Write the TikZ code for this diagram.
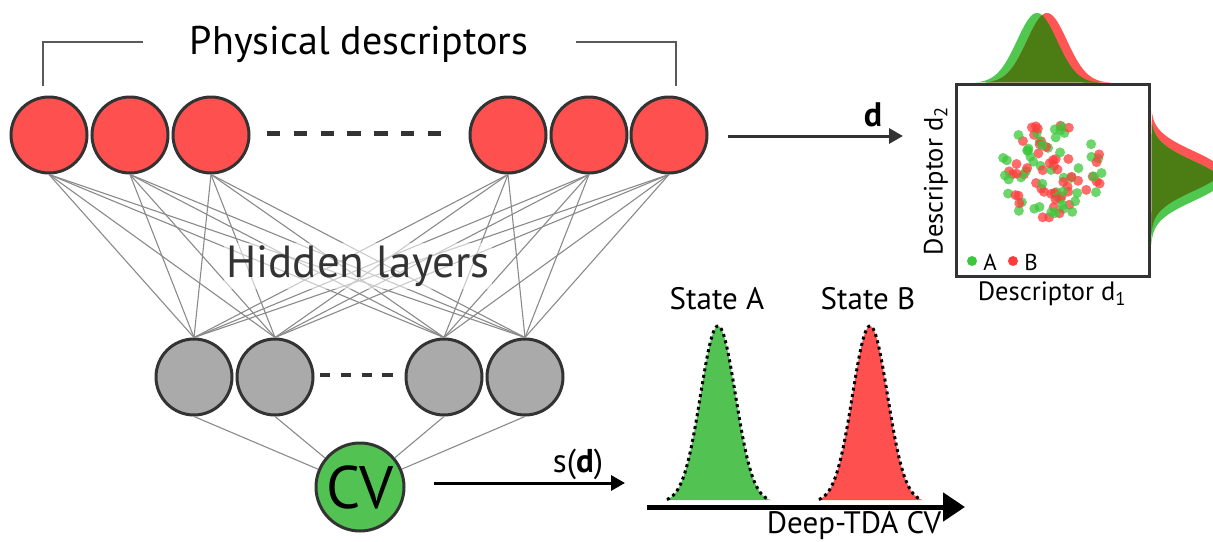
\documentclass[tikz,border=0pt]{standalone}
\usepackage{fontspec}
\setmainfont{PT Sans}
\usetikzlibrary{arrows.meta}
\definecolor{nred}{HTML}{FF5050}
\definecolor{ngreen}{HTML}{52C352}
\definecolor{ngray}{HTML}{AAAAAA}
\definecolor{edgec}{HTML}{333333}
\definecolor{wirec}{HTML}{8A8A8A}
\definecolor{olivec}{HTML}{4B7D14}
\definecolor{mgreen}{HTML}{50C850}
\definecolor{mred}{HTML}{FF5555}
\definecolor{dgreen}{HTML}{3CC83C}
\definecolor{dred}{HTML}{FF3C3C}
\begin{document}
\begin{tikzpicture}[x=1pt,y=-1pt,
  neuron/.style={circle, draw=edgec, line width=3pt, minimum size=76pt, inner sep=0pt},
  inp/.style={neuron, fill=nred},
  hid/.style={neuron, fill=ngray},
  wire/.style={draw=wirec, line width=1.1pt},
  bracketline/.style={draw=black!65, line width=1.3pt},
  peakline/.style={draw=black, line width=3pt, dash pattern=on 3pt off 3.5pt},
  dotA/.style={fill=dgreen, opacity=.75},
  dotB/.style={fill=dred, opacity=.75}
]
\useasboundingbox (0,0) rectangle (1213,541);

% input layer
\foreach \n/\x in {1/49,2/130,3/211,4/508,5/589,6/669}
  \node[inp] (r\n) at (\x,135) {};
% hidden layer
\foreach \n/\x in {1/194,2/275,3/444,4/525}
  \node[hid] (g\n) at (\x,377) {};
% output
\node[neuron, fill=ngreen, minimum size=88pt, font=\fontsize{60}{64}\selectfont] (cv) at (360,487) {CV};

% connections
\foreach \i in {1,...,6}
  \foreach \j in {1,...,4}
    \draw[wire] (r\i.south) -- (g\j.north);
\foreach \j in {1,...,4}
  \draw[wire] (g\j.south) -- (cv);

% dashes
\coordinate (da0) at (267,133); \coordinate (da1) at (441,133);
\draw[edgec, line width=5pt, dash pattern=on 13.4pt off 13.4pt] (da0) -- (da1);
\coordinate (db0) at (320,375); \coordinate (db1) at (393,375);
\draw[edgec, line width=4pt, dash pattern=on 10.4pt off 10.4pt] (db0) -- (db1);

% labels
\node[fill=white, fill opacity=.55, text opacity=1, text=edgec, inner sep=2pt,
      font=\fontsize{45}{48}\selectfont] (hl) at (358,266) {Hidden layers};
\node[font=\fontsize{40}{44}\selectfont] (pd) at (359,44) {Physical descriptors};

% brackets
\coordinate (bl0) at (43,86); \coordinate (bl1) at (43,42); \coordinate (bl2) at (143,42);
\coordinate (br0) at (576,42); \coordinate (br1) at (676,42); \coordinate (br2) at (676,86);
\draw[bracketline] (bl0) -- (bl1) -- (bl2);
\draw[bracketline] (br0) -- (br1) -- (br2);

% d arrow
\coordinate (ad0) at (728,136); \coordinate (ad1) at (903,136);
\draw[edgec, line width=3pt, -{Triangle[length=14pt,width=15pt]}] (ad0) -- (ad1);
\node[font=\fontsize{34}{38}\selectfont\bfseries] (dl) at (873,115) {d};

% s(d) arrow
\coordinate (as0) at (434,483); \coordinate (as1) at (625,483);
\draw[black, line width=3pt, -{Triangle[length=14pt,width=15pt]}] (as0) -- (as1);
\node[font=\fontsize{33}{36}\selectfont] (sl) at (578,464) {s(\textbf{d})};

% Deep-TDA CV distributions
\fill[ngreen] plot[domain=665:771,samples=80] (\x,{502-176*exp(-0.5*((\x-718)/17.5)^2)}) -- cycle;
\draw[peakline] plot[domain=667:769,samples=80] (\x,{502-176*exp(-0.5*((\x-718)/17.5)^2)});
\fill[nred] plot[domain=817:923,samples=80] (\x,{502-176*exp(-0.5*((\x-870)/17.5)^2)}) -- cycle;
\draw[peakline] plot[domain=819:921,samples=80] (\x,{502-176*exp(-0.5*((\x-870)/17.5)^2)});
\coordinate (ax0) at (647,507); \coordinate (ax1) at (965,507);
\draw[black, line width=5pt, -{Triangle[length=22pt,width=28pt]}] (ax0) -- (ax1);
\node[font=\fontsize{31}{34}\selectfont] (sa) at (717,299) {State A};
\node[font=\fontsize{31}{34}\selectfont] (sb) at (868,299) {State B};
\node[font=\fontsize{31}{34}\selectfont] (tda) at (854,526) {Deep-TDA CV};

% scatter panel marginals
\begin{scope}
\clip (0,0) rectangle (1213,541);
\fill[mgreen] plot[domain=975:1100,samples=100] (\x,{83-70*exp(-0.5*((\x-1037)/20)^2)}) -- cycle;
\fill[mred] plot[domain=985:1110,samples=100] (\x,{83-70*exp(-0.5*((\x-1047)/20)^2)}) -- cycle;
\fill[olivec] plot[domain=985:1042,samples=60] (\x,{83-70*exp(-0.5*((\x-1047)/20)^2)})
   -- plot[domain=1042:1100,samples=60] (\x,{83-70*exp(-0.5*((\x-1037)/20)^2)}) -- cycle;
\fill[mred] plot[domain=111:235,samples=100] ({1151+70*exp(-0.5*((\x-171)/20)^2)},\x) -- cycle;
\fill[mgreen] plot[domain=121:245,samples=100] ({1151+70*exp(-0.5*((\x-181)/20)^2)},\x) -- cycle;
\fill[olivec] plot[domain=121:176,samples=60] ({1151+70*exp(-0.5*((\x-181)/20)^2)},\x)
   -- plot[domain=176:235,samples=60] ({1151+70*exp(-0.5*((\x-171)/20)^2)},\x) -- cycle;
\end{scope}

% scatter box
\fill[white] (955,83) rectangle (1151,278);
\pgfmathsetseed{11}
\foreach \i in {1,...,50} {
  \pgfmathsetmacro\ra{54*sqrt(rnd)}
  \pgfmathsetmacro\ta{360*rnd}
  \fill[dotA] ({1050+\ra*cos(\ta)},{171+\ra*sin(\ta)}) circle (5pt);
  \pgfmathsetmacro\rb{50*sqrt(rnd)}
  \pgfmathsetmacro\tb{360*rnd}
  \fill[dotB] ({1052+\rb*cos(\tb)},{169+\rb*sin(\tb)}) circle (5pt);
}
\node[draw=edgec, line width=3pt, minimum width=193pt, minimum height=192pt, inner sep=0pt] (box) at (1053,180.5) {};
\fill[dgreen] (972,261) circle (5pt);
\node[font=\fontsize{23}{25}\selectfont] (la) at (990,262) {A};
\fill[dred] (1013,261) circle (5pt);
\node[font=\fontsize{23}{25}\selectfont] (lb) at (1031,262) {B};
\node[font=\fontsize{26.5}{29}\selectfont, rotate=90] (d2) at (936,181) {Descriptor d\textsubscript{2}};
\node[font=\fontsize{26.5}{29}\selectfont] (d1) at (1052,294) {Descriptor d\textsubscript{1}};
\end{tikzpicture}
\end{document}
